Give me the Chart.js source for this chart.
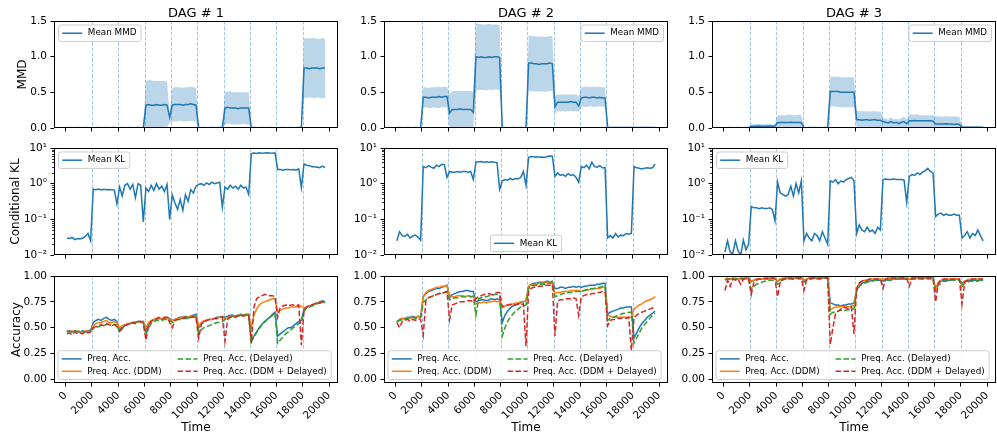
<!DOCTYPE html>
<html><head><meta charset="utf-8">
<script src="https://cdn.jsdelivr.net/npm/chart.js@4.4.1/dist/chart.umd.min.js"></script>
<style>html,body{margin:0;padding:0;background:#fff;overflow:hidden;width:997px;height:440px}</style>
</head><body>
<script>
// ---------------- DATA ----------------
const times = [
 100,300,500,700,900,1100,1300,1500,1700,1900,
 2100,2300,2500,2700,2900,3100,3300,3500,3700,3900,
 4100,4300,4500,4700,4900,5100,5300,5500,5700,5900,
 6100,6300,6500,6700,6900,7100,7300,7500,7700,7900,
 8100,8300,8500,8700,8900,9100,9300,9500,9700,9900,
 10100,10300,10500,10700,10900,11100,11300,11500,11700,11900,
 12100,12300,12500,12700,12900,13100,13300,13500,13700,13900,
 14100,14300,14500,14700,14900,15100,15300,15500,15700,15900,
 16100,16300,16500,16700,16900,17100,17300,17500,17700,17900,
 18100,18300,18500,18700,18900,19100,19300,19500,19700
];
const dagTitles = ['DAG # 1','DAG # 2','DAG # 3'];
const driftPoints = [2000,4000,6000,8000,10000,12000,14000,16000,18000];
const xTicks = [0,2000,4000,6000,8000,10000,12000,14000,16000,18000,20000];
const xTickLabels = ['0','2000','4000','6000','8000','10000','12000','14000','16000','18000','20000'];
const mmdTicks = [0,0.5,1,1.5];
const mmdTickLabels = ['0.0','0.5','1.0','1.5'];
const klTicks = [0.01,0.1,1,10];
const klTickLabels = ['10\u207B\u00B2','10\u207B\u00B9','10\u2070','10\u00B9'];
const klMinorTicks = [0.02,0.03,0.04,0.05,0.06,0.07,0.08,0.09,0.2,0.3,0.4,0.5,0.6,0.7,0.8,0.9,2,3,4,5,6,7,8,9];
const accTicks = [0,0.25,0.5,0.75,1];
const accTickLabels = ['0.00','0.25','0.50','0.75','1.00'];
const accLabels = ['Preq. Acc.','Preq. Acc. (DDM)','Preq. Acc. (Delayed)','Preq. Acc. (DDM + Delayed)'];

// ---- MMD (mean, upper, lower) ----
const mmd1Mean = [
 .005,.006,.005,.005,.006,.005,.005,.006,.005,.005,
 .005,.005,.006,.005,.005,.006,.005,.005,.006,.005,
 .005,.006,.005,.005,.006,.005,.005,.006,.005,.005,
 .32,.33,.32,.32,.33,.32,.32,.33,.32,.15,
 .32,.33,.33,.33,.32,.33,.33,.34,.33,.32,
 .005,.005,.006,.005,.005,.006,.005,.005,.006,.005,
 .28,.29,.28,.28,.28,.27,.28,.28,.28,.28,
 .005,.006,.005,.005,.006,.005,.005,.006,.005,.005,
 .005,.005,.006,.005,.005,.006,.005,.005,.006,.005,
 .84,.84,.83,.84,.84,.84,.83,.84,.84];
const mmd1Hi = [
 .008,.008,.008,.008,.008,.008,.008,.008,.008,.008,
 .008,.008,.008,.008,.008,.008,.008,.008,.008,.008,
 .008,.008,.008,.008,.008,.008,.008,.008,.008,.008,
 .66,.67,.67,.66,.66,.66,.66,.66,.65,.22,
 .56,.57,.57,.57,.56,.57,.57,.58,.57,.56,
 .008,.008,.008,.008,.008,.008,.008,.008,.008,.008,
 .50,.51,.51,.50,.50,.50,.50,.50,.50,.50,
 .008,.008,.008,.008,.008,.008,.008,.008,.008,.008,
 .008,.008,.008,.008,.008,.008,.008,.008,.008,.008,
 1.25,1.26,1.25,1.26,1.26,1.25,1.25,1.26,1.25];
const mmd1Lo = [
 .002,.002,.002,.002,.002,.002,.002,.002,.002,.002,
 .002,.002,.002,.002,.002,.002,.002,.002,.002,.002,
 .002,.002,.002,.002,.002,.002,.002,.002,.002,.002,
 .0,.0,.01,.0,.0,.01,.0,.0,.01,.08,
 .09,.09,.09,.10,.09,.09,.09,.10,.09,.09,
 .002,.002,.002,.002,.002,.002,.002,.002,.002,.002,
 .05,.06,.06,.05,.05,.05,.05,.06,.05,.05,
 .002,.002,.002,.002,.002,.002,.002,.002,.002,.002,
 .002,.002,.002,.002,.002,.002,.002,.002,.002,.002,
 .42,.42,.43,.42,.42,.43,.42,.42,.42];

const mmd2Mean = [
 .005,.006,.005,.005,.006,.005,.005,.006,.005,.005,
 .43,.43,.42,.43,.43,.43,.44,.43,.44,.44,
 .21,.26,.26,.26,.27,.26,.26,.26,.26,.22,
 1.0,.99,1.0,.99,.99,1.0,.99,1.0,1.0,.99,
 .005,.006,.005,.005,.006,.005,.005,.006,.005,.005,
 .91,.91,.90,.90,.89,.90,.90,.90,.91,.90,
 .30,.36,.36,.36,.36,.36,.37,.36,.36,.31,
 .42,.43,.43,.42,.43,.43,.42,.43,.42,.42,
 .008,.007,.008,.008,.007,.008,.008,.007,.008,.008,
 .008,.007,.008,.008,.007,.008,.008,.007,.008];
const mmd2Hi = [
 .008,.008,.008,.008,.008,.008,.008,.008,.008,.008,
 .57,.57,.56,.57,.57,.57,.58,.57,.58,.58,
 .47,.52,.52,.52,.52,.52,.52,.52,.52,.50,
 1.46,1.46,1.45,1.45,1.45,1.46,1.45,1.45,1.45,1.44,
 .008,.008,.008,.008,.008,.008,.008,.008,.008,.008,
 1.30,1.29,1.29,1.28,1.28,1.28,1.28,1.28,1.29,1.28,
 .45,.47,.47,.47,.47,.47,.47,.47,.47,.44,
 .57,.58,.58,.57,.58,.58,.57,.58,.57,.57,
 .012,.012,.012,.012,.012,.012,.012,.012,.012,.012,
 .012,.012,.012,.012,.012,.012,.012,.012,.012];
const mmd2Lo = [
 .002,.002,.002,.002,.002,.002,.002,.002,.002,.002,
 .28,.29,.28,.28,.29,.28,.28,.29,.29,.29,
 0,0,0,0,0,0,0,0,0,0,
 .53,.53,.54,.53,.53,.54,.53,.54,.54,.53,
 .002,.002,.002,.002,.002,.002,.002,.002,.002,.002,
 .51,.52,.51,.51,.51,.51,.51,.51,.52,.52,
 .20,.24,.23,.24,.23,.24,.24,.23,.24,.22,
 .30,.30,.29,.30,.30,.29,.30,.30,.30,.30,
 .003,.003,.003,.003,.003,.003,.003,.003,.003,.003,
 .003,.003,.003,.003,.003,.003,.003,.003,.003];

const mmd3Mean = [
 .005,.005,.006,.005,.005,.006,.005,.005,.006,.005,
 .025,.026,.025,.027,.026,.025,.026,.027,.026,.028,
 .075,.078,.076,.077,.078,.080,.078,.077,.078,.076,
 .006,.005,.006,.005,.006,.005,.006,.005,.006,.005,
 .51,.51,.51,.51,.50,.50,.50,.50,.50,.50,
 .115,.115,.11,.115,.115,.11,.115,.115,.11,.11,
 .09,.08,.07,.09,.07,.08,.06,.08,.09,.06,
 .10,.10,.105,.10,.10,.10,.10,.10,.10,.095,
 .055,.055,.055,.055,.06,.055,.055,.05,.055,.05,
 .012,.012,.012,.01,.01,.01,.01,.01,.01];
const mmd3Hi = [
 .008,.008,.008,.008,.008,.008,.008,.008,.008,.008,
 .05,.05,.055,.055,.05,.05,.055,.055,.05,.05,
 .18,.18,.18,.18,.19,.19,.18,.18,.19,.18,
 .009,.009,.009,.009,.009,.009,.009,.009,.009,.009,
 .72,.72,.72,.72,.71,.71,.71,.71,.71,.71,
 .24,.24,.235,.235,.235,.23,.235,.235,.23,.23,
 .14,.13,.12,.15,.12,.13,.12,.14,.16,.12,
 .19,.19,.19,.19,.18,.18,.18,.18,.18,.18,
 .16,.165,.16,.16,.165,.16,.16,.16,.16,.16,
 .025,.025,.025,.022,.022,.022,.022,.022,.022];
const mmd3Lo = [
 .002,.002,.002,.002,.002,.002,.002,.002,.002,.002,
 0,0,0,0,0,0,0,0,0,0,
 0,0,0,0,0,0,0,0,0,0,
 .002,.002,.002,.002,.002,.002,.002,.002,.002,.002,
 .30,.30,.30,.29,.29,.29,.29,.29,.29,.29,
 0,0,0,0,0,0,0,0,0,0,
 0,0,0,0,0,0,0,0,0,0,
 0,0,0,0,0,0,0,0,0,0,
 0,0,0,0,0,0,0,0,0,0,
 0,0,0,0,0,0,0,0,0];

// ---- Conditional KL ----
const kl1 = [
 .030,.029,.031,.027,.029,.028,.030,.033,.040,.025,
 .70,.68,.71,.67,.70,.68,.69,.67,.66,.27,
 .80,.45,.90,1.0,.70,.95,.40,1.0,.90,.085,
 .75,.60,.90,.65,1.0,.70,.85,.60,.95,.10,
 .48,.29,.19,.36,.18,.49,.32,.68,.55,.85,
 .95,1.0,.90,1.05,.95,1.1,1.0,1.05,1.1,.22,
 .80,.70,.90,.75,.85,.70,.90,.75,.80,.50,
 7.0,7.2,7.0,7.3,7.1,7.2,7.4,7.2,7.1,7.3,
 2.5,2.5,2.4,2.5,2.5,2.45,2.5,2.4,2.6,.78,
 3.6,3.3,3.2,3.0,3.0,2.9,2.8,3.1,2.8];
const kl2 = [
 .025,.045,.035,.033,.038,.030,.034,.036,.032,.026,
 3.0,2.8,3.2,2.9,2.7,3.3,3.0,3.5,3.4,1.5,
 2.2,2.1,2.1,2.2,2.1,2.2,2.2,2.1,2.2,1.3,
 4.0,4.1,4.2,4.0,4.1,4.0,4.1,4.0,3.9,.70,
 1.2,1.3,1.25,1.4,1.3,1.4,1.35,1.5,2.2,.90,
 5.5,5.8,5.6,5.7,5.5,5.6,5.4,5.8,6.0,5.9,
 1.6,2.0,1.7,1.8,1.6,1.9,1.7,1.8,1.5,1.1,
 3.0,2.8,3.3,2.6,4.0,3.0,2.9,3.2,2.8,2.8,
 .030,.035,.030,.040,.032,.036,.035,.040,.038,.040,
 3.0,2.8,2.7,2.6,2.7,2.8,2.7,2.8,3.5];
const kl3 = [
 .012,.025,.012,.011,.025,.013,.010,.026,.014,.020,
 .23,.21,.21,.20,.21,.20,.20,.21,.19,.09,
 1.1,.55,.50,.45,.50,.85,.45,1.0,.55,1.2,
 .025,.040,.030,.025,.040,.035,.025,.045,.030,.020,
 1.2,1.1,1.3,1.0,1.2,1.1,1.3,1.4,1.5,1.2,
 .040,.070,.050,.045,.060,.045,.050,.040,.060,.050,
 1.3,1.35,1.3,1.3,1.35,1.3,1.3,1.3,1.25,.30,
 1.6,1.8,1.7,2.0,1.8,2.1,2.3,2.7,2.2,2.0,
 .12,.14,.15,.13,.14,.13,.13,.14,.13,.13,
 .030,.035,.045,.030,.040,.035,.050,.035,.025];

// ---- Accuracy ----
const acc1Blue = [
 .46,.47,.46,.47,.46,.46,.47,.46,.47,.47,
 .55,.57,.58,.57,.59,.60,.58,.57,.58,.56,
 .47,.50,.52,.53,.54,.55,.55,.56,.56,.56,
 .47,.53,.56,.58,.58,.59,.58,.59,.60,.59,
 .57,.58,.59,.60,.60,.61,.60,.61,.62,.63,
 .50,.54,.56,.57,.58,.58,.59,.60,.60,.61,
 .60,.61,.62,.62,.61,.62,.63,.62,.63,.63,
 .37,.42,.46,.50,.53,.56,.58,.60,.63,.65,
 .42,.44,.46,.48,.50,.50,.52,.54,.56,.57,
 .68,.70,.71,.72,.73,.74,.75,.76,.75];
const acc1Orange = [
 .47,.46,.47,.46,.47,.46,.46,.47,.46,.47,
 .52,.54,.55,.55,.56,.57,.55,.55,.56,.55,
 .50,.52,.53,.54,.54,.55,.55,.56,.55,.56,
 .50,.55,.57,.58,.59,.59,.58,.59,.59,.58,
 .57,.58,.59,.59,.60,.60,.60,.61,.61,.61,
 .52,.55,.57,.57,.58,.58,.59,.59,.60,.60,
 .59,.60,.61,.61,.61,.62,.62,.62,.62,.63,
 .50,.62,.68,.72,.74,.75,.76,.77,.78,.78,
 .65,.67,.68,.69,.69,.70,.70,.70,.71,.71,
 .69,.70,.71,.72,.73,.74,.74,.75,.75];
const acc1Green = [
 .47,.46,.46,.47,.46,.47,.46,.46,.47,.48,
 .49,.50,.51,.52,.52,.53,.53,.52,.53,.53,
 .45,.49,.52,.53,.54,.55,.55,.56,.56,.55,
 .43,.50,.54,.56,.57,.57,.57,.58,.58,.57,
 .55,.57,.58,.58,.59,.59,.59,.60,.60,.60,
 .45,.48,.50,.51,.52,.53,.54,.55,.55,.56,
 .58,.60,.60,.61,.61,.61,.62,.62,.62,.62,
 .36,.41,.45,.49,.53,.55,.58,.60,.62,.64,
 .35,.38,.41,.44,.46,.48,.50,.52,.54,.55,
 .66,.69,.70,.71,.72,.73,.74,.75,.74];
const acc1Red = [
 .44,.45,.43,.46,.44,.45,.44,.46,.45,.46,
 .50,.51,.52,.53,.52,.54,.53,.52,.53,.51,
 .47,.51,.52,.53,.54,.55,.54,.56,.56,.54,
 .38,.52,.56,.58,.59,.60,.58,.60,.60,.55,
 .50,.57,.58,.59,.59,.60,.59,.60,.61,.60,
 .40,.53,.56,.57,.58,.58,.59,.59,.60,.60,
 .37,.58,.60,.61,.60,.62,.62,.61,.62,.62,
 .35,.70,.78,.80,.81,.82,.82,.81,.81,.80,
 .60,.70,.71,.72,.71,.72,.72,.71,.72,.33,
 .67,.70,.71,.72,.73,.74,.74,.75,.75];

const acc2Blue = [
 .56,.58,.59,.59,.60,.60,.61,.60,.61,.60,
 .80,.83,.85,.86,.87,.88,.88,.89,.90,.91,
 .80,.82,.83,.84,.85,.85,.86,.86,.85,.85,
 .75,.76,.77,.77,.76,.77,.78,.77,.78,.77,
 .55,.62,.66,.69,.71,.72,.73,.74,.75,.76,
 .90,.92,.93,.93,.94,.94,.94,.95,.94,.95,
 .88,.88,.89,.89,.88,.89,.89,.90,.89,.90,
 .89,.90,.90,.91,.91,.91,.92,.92,.93,.93,
 .63,.65,.66,.67,.68,.69,.69,.70,.70,.70,
 .40,.45,.50,.54,.57,.60,.62,.64,.66];
const acc2Orange = [
 .55,.58,.59,.58,.60,.59,.60,.60,.61,.61,
 .80,.84,.86,.87,.88,.89,.89,.90,.90,.91,
 .79,.80,.80,.81,.81,.81,.80,.81,.80,.81,
 .73,.74,.74,.75,.74,.75,.75,.76,.75,.76,
 .70,.71,.72,.73,.73,.74,.74,.75,.75,.76,
 .90,.91,.92,.92,.93,.93,.93,.94,.93,.94,
 .83,.84,.84,.85,.85,.85,.86,.86,.86,.86,
 .85,.86,.86,.87,.87,.88,.88,.88,.89,.89,
 .62,.61,.60,.60,.60,.60,.60,.60,.60,.60,
 .68,.70,.72,.73,.75,.76,.77,.78,.80];
const acc2Green = [
 .56,.57,.58,.58,.59,.59,.60,.59,.60,.60,
 .74,.77,.79,.80,.81,.82,.83,.83,.84,.85,
 .77,.78,.79,.79,.80,.80,.80,.81,.80,.80,
 .62,.78,.79,.80,.80,.81,.81,.82,.82,.82,
 .42,.50,.56,.60,.63,.66,.68,.70,.71,.72,
 .88,.90,.91,.91,.92,.92,.92,.93,.93,.93,
 .80,.81,.82,.83,.83,.84,.84,.85,.85,.85,
 .85,.86,.87,.87,.88,.88,.89,.89,.90,.90,
 .57,.59,.60,.61,.62,.63,.64,.64,.65,.65,
 .35,.40,.45,.50,.53,.56,.59,.62,.64];
const acc2Red = [
 .55,.50,.56,.57,.58,.56,.58,.57,.59,.58,
 .43,.76,.79,.80,.81,.82,.83,.83,.84,.85,
 .58,.72,.73,.74,.75,.75,.75,.76,.76,.75,
 .78,.80,.81,.82,.82,.83,.82,.83,.84,.84,
 .70,.71,.72,.72,.73,.72,.73,.72,.73,.32,
 .86,.88,.89,.89,.90,.90,.91,.91,.91,.92,
 .42,.76,.77,.77,.78,.78,.78,.79,.78,.62,
 .80,.81,.82,.82,.83,.83,.84,.84,.85,.85,
 .52,.57,.58,.58,.59,.59,.60,.59,.60,.28,
 .60,.62,.64,.65,.66,.67,.68,.69,.70];

const acc3Blue = [
 .97,.97,.97,.98,.97,.97,.98,.97,.98,.98,
 .95,.96,.97,.97,.97,.98,.97,.98,.98,.98,
 .95,.97,.97,.98,.98,.98,.98,.98,.98,.98,
 .96,.97,.98,.98,.98,.98,.98,.98,.98,.98,
 .74,.73,.72,.72,.71,.72,.72,.73,.73,.74,
 .86,.91,.93,.94,.95,.95,.96,.96,.96,.96,
 .96,.96,.97,.97,.97,.97,.97,.97,.97,.97,
 .97,.97,.97,.98,.98,.97,.98,.98,.98,.98,
 .88,.93,.95,.96,.96,.96,.96,.96,.97,.96,
 .93,.95,.95,.96,.96,.96,.96,.96,.96];
const acc3Orange = [
 .97,.98,.97,.97,.98,.97,.98,.98,.97,.98,
 .94,.96,.97,.97,.97,.98,.98,.97,.98,.98,
 .95,.97,.98,.98,.98,.98,.98,.98,.98,.98,
 .96,.97,.98,.98,.98,.98,.98,.98,.98,.98,
 .67,.69,.70,.70,.71,.70,.71,.70,.71,.71,
 .88,.93,.95,.96,.96,.97,.97,.97,.97,.97,
 .97,.97,.98,.98,.98,.98,.98,.98,.98,.98,
 .97,.98,.98,.98,.98,.98,.98,.98,.98,.98,
 .86,.94,.96,.97,.97,.97,.97,.97,.97,.97,
 .90,.95,.96,.97,.97,.97,.97,.97,.97];
const acc3Green = [
 .96,.97,.97,.97,.97,.98,.97,.97,.98,.97,
 .87,.90,.92,.93,.94,.95,.95,.96,.96,.96,
 .92,.95,.96,.97,.97,.97,.97,.98,.97,.97,
 .94,.96,.97,.97,.98,.97,.98,.98,.98,.98,
 .63,.65,.65,.66,.67,.66,.67,.67,.68,.68,
 .85,.90,.92,.93,.94,.95,.95,.96,.96,.96,
 .95,.96,.96,.96,.97,.97,.97,.97,.97,.97,
 .96,.97,.97,.97,.97,.97,.98,.97,.97,.98,
 .86,.91,.93,.95,.95,.96,.96,.96,.96,.96,
 .90,.93,.94,.95,.95,.95,.95,.96,.96];
const acc3Red = [
 .86,.96,.90,.97,.96,.97,.92,.97,.98,.97,
 .82,.94,.96,.97,.97,.97,.98,.97,.98,.97,
 .80,.95,.97,.97,.98,.98,.97,.98,.98,.98,
 .86,.96,.97,.98,.98,.98,.97,.98,.98,.98,
 .34,.50,.64,.66,.68,.70,.69,.68,.70,.44,
 .88,.93,.95,.96,.96,.97,.97,.97,.97,.97,
 .88,.97,.98,.98,.98,.98,.98,.98,.98,.98,
 .90,.98,.98,.98,.98,.98,.98,.98,.98,.98,
 .75,.93,.96,.97,.97,.96,.97,.97,.97,.97,
 .73,.94,.96,.96,.97,.97,.97,.97,.97];

// ---------------- STYLE / LAYOUT ----------------
const FONT = "'DejaVu Sans', sans-serif";
Chart.defaults.font.family = FONT;
Chart.defaults.font.size = 10.5;
Chart.defaults.color = '#000';
const BLUE='#1f77b4', ORANGE='#ff7f0e', GREEN='#2ca02c', RED='#d62728';
const BAND='rgba(31,119,180,0.3)';
const DRIFT='rgba(31,119,180,0.4)';
const colLeft=[0,330,658], canvasW=[340,340,339], padRight=[2,2,1];
const rowTop=[0,134,261], rowH=[134,127,179], padTop=[21,14,15], xAxisH=[6,6,57];
const yTitlePad=[15.6,9,10];
const TICKFS=10.5;
const LEG={fs:8.8,padL:3.7,padR:4.5,handle:20,handlePad:5.6,colSpace:16,rowSp:12.4,padV:8.2};

const pts = arr => times.map((t,i)=>({x:t,y:arr[i]}));

function legendPlugin(spec){
  return {id:'mlegend', afterDatasetsDraw(chart){
    const ctx=chart.ctx, a=chart.chartArea;
    ctx.save();
    ctx.font=LEG.fs+'px '+FONT;
    const cols=spec.cols;
    const colW=cols.map(c=>Math.max(...c.map(it=>ctx.measureText(it.label).width)));
    const nRows=Math.max(...cols.map(c=>c.length));
    let w=LEG.padL+LEG.padR;
    colW.forEach((cw,i)=>{w+=LEG.handle+LEG.handlePad+cw+(i>0?LEG.colSpace:0);});
    const h=2*LEG.padV+(nRows-1)*LEG.rowSp;
    let x0,y0;
    if(spec.loc==='upper left'){x0=a.left+4.5;y0=a.top+4;}
    else if(spec.loc==='upper right'){x0=a.right-4.5-w;y0=a.top+4;}
    else if(spec.loc==='lower left'){x0=a.left+4;y0=a.bottom-3.5-h;}
    else {x0=(a.left+a.right)/2-w/2;y0=a.bottom-3.5-h;}
    const r=2.5;
    ctx.beginPath();
    ctx.moveTo(x0+r,y0);ctx.lineTo(x0+w-r,y0);ctx.arcTo(x0+w,y0,x0+w,y0+r,r);
    ctx.lineTo(x0+w,y0+h-r);ctx.arcTo(x0+w,y0+h,x0+w-r,y0+h,r);
    ctx.lineTo(x0+r,y0+h);ctx.arcTo(x0,y0+h,x0,y0+h-r,r);
    ctx.lineTo(x0,y0+r);ctx.arcTo(x0,y0,x0+r,y0,r);ctx.closePath();
    ctx.fillStyle='rgba(255,255,255,0.8)';ctx.fill();
    ctx.strokeStyle='#cccccc';ctx.lineWidth=1;ctx.stroke();
    let cx=x0+LEG.padL;
    cols.forEach((c,ci)=>{
      c.forEach((it,ri)=>{
        const y=y0+LEG.padV+ri*LEG.rowSp;
        ctx.beginPath();ctx.setLineDash(it.dash||[]);ctx.strokeStyle=it.color;ctx.lineWidth=1.5;
        ctx.moveTo(cx,y);ctx.lineTo(cx+LEG.handle,y);ctx.stroke();ctx.setLineDash([]);
        ctx.fillStyle='#000';ctx.textBaseline='middle';ctx.textAlign='left';
        ctx.fillText(it.label,cx+LEG.handle+LEG.handlePad,y);
      });
      cx+=LEG.handle+LEG.handlePad+colW[ci]+LEG.colSpace;
    });
    ctx.restore();
  }};
}
const driftPlugin={id:'drift', beforeDatasetsDraw(chart){
  const ctx=chart.ctx,a=chart.chartArea,xs=chart.scales.x;
  ctx.save();ctx.strokeStyle=DRIFT;ctx.lineWidth=1;ctx.setLineDash([3.7,1.6]);
  driftPoints.forEach(v=>{const x=Math.round(xs.getPixelForValue(v))+0.5;
    ctx.beginPath();ctx.moveTo(x,a.top);ctx.lineTo(x,a.bottom);ctx.stroke();});
  ctx.restore();
}};
const framePlugin={id:'frame', afterDraw(chart){
  const ctx=chart.ctx,a=chart.chartArea;
  ctx.save();ctx.strokeStyle='#000';ctx.lineWidth=1;
  ctx.strokeRect(a.left+0.5,a.top+0.5,a.right-a.left-1,a.bottom-a.top-1);
  ctx.restore();
}};
const minorPlugin={id:'minor', afterDraw(chart){
  const ctx=chart.ctx,a=chart.chartArea,ys=chart.scales.y;
  ctx.save();ctx.strokeStyle='#000';ctx.lineWidth=0.8;
  klMinorTicks.forEach(v=>{const y=Math.round(ys.getPixelForValue(v))+0.5;
    ctx.beginPath();ctx.moveTo(a.left,y);ctx.lineTo(a.left-2,y);ctx.stroke();});
  ctx.restore();
}};
function titlePlugin(text){return {id:'dagtitle', afterDraw(chart){
  const ctx=chart.ctx,a=chart.chartArea;
  ctx.save();ctx.font='13px '+FONT;ctx.fillStyle='#000';ctx.textAlign='center';ctx.textBaseline='alphabetic';
  ctx.fillText(text,(a.left+a.right)/2,17);ctx.restore();
}};}

function zeroPad(s){s.paddingLeft=0;s.paddingRight=0;s.paddingTop=0;s.paddingBottom=0;}

function panel(col,row,datasets,yCfg,legendSpec){
  const cv=document.createElement('canvas');
  cv.width=canvasW[col];cv.height=rowH[row];
  cv.style.cssText='position:absolute;left:'+colLeft[col]+'px;top:'+rowTop[row]+'px;width:'+canvasW[col]+'px;height:'+rowH[row]+'px';
  document.body.appendChild(cv);
  const plugins=[driftPlugin,framePlugin,legendPlugin(legendSpec)];
  if(row===0)plugins.push(titlePlugin(dagTitles[col]));
  if(row===1)plugins.push(minorPlugin);
  const yTitle={display:col===0,text:yCfg.title,font:{size:12},padding:{top:yTitlePad[row],bottom:0}};
  new Chart(cv,{type:'line',data:{datasets},
    options:{responsive:false,animation:false,
      layout:{padding:{top:padTop[row],right:padRight[col],bottom:0,left:0},autoPadding:false},
      plugins:{legend:{display:false},tooltip:{enabled:false},filler:{propagate:false}},
      elements:{point:{radius:0},line:{tension:0,borderWidth:1.5}},
      scales:{
        x:{type:'linear',min:-880,max:20680,
          afterBuildTicks:s=>{s.ticks=xTicks.map(v=>({value:v}));},
          afterFit:s=>{s.height=xAxisH[row];zeroPad(s);},
          grid:{drawOnChartArea:false,drawTicks:true,tickLength:3.5,color:'#000',lineWidth:1},
          border:{display:false},
          ticks:{display:row===2,autoSkip:false,maxRotation:45,minRotation:45,padding:3,font:{size:TICKFS},color:'#000',
            callback:(v,i)=>xTickLabels[i]},
          title:{display:row===2,text:'Time',font:{size:12},padding:{top:0,bottom:5.3}}
        },
        y:{type:yCfg.type,min:yCfg.min,max:yCfg.max,
          afterBuildTicks:s=>{s.ticks=yCfg.ticks.map(v=>({value:v}));},
          afterFit:s=>{s.width=54;zeroPad(s);},
          grid:{drawOnChartArea:false,drawTicks:true,tickLength:3.5,color:'#000',lineWidth:1},
          border:{display:false},
          ticks:{autoSkip:false,padding:3.5,font:{size:TICKFS},color:'#000',callback:(v,i)=>yCfg.labels[i]},
          title:yTitle
        }
      }},
    plugins});
}

const mmdSets=[[mmd1Mean,mmd1Hi,mmd1Lo],[mmd2Mean,mmd2Hi,mmd2Lo],[mmd3Mean,mmd3Hi,mmd3Lo]];
const klSets=[kl1,kl2,kl3];
const accSets=[[acc1Blue,acc1Orange,acc1Green,acc1Red],[acc2Blue,acc2Orange,acc2Green,acc2Red],[acc3Blue,acc3Orange,acc3Green,acc3Red]];
const mmdLegLoc=['upper left','upper right','upper right'];
const klLegLoc=['upper left','lower center','upper left'];
const accColors=[BLUE,ORANGE,GREEN,RED];
const accDash=[[],[],[5.5,2.4],[5.5,2.4]];

for(let c=0;c<3;c++){
  const [m,hi,lo]=mmdSets[c];
  panel(c,0,[
    {label:'Mean MMD',data:pts(m),borderColor:BLUE,fill:false},
    {label:'upper',data:pts(hi),borderWidth:0,borderColor:'rgba(0,0,0,0)',backgroundColor:BAND,fill:'+1'},
    {label:'lower',data:pts(lo),borderWidth:0,borderColor:'rgba(0,0,0,0)',fill:false}
  ],{type:'linear',min:0,max:1.5,ticks:mmdTicks,labels:mmdTickLabels,title:'MMD'},
  {loc:mmdLegLoc[c],cols:[[{label:'Mean MMD',color:BLUE}]]});

  panel(c,1,[
    {label:'Mean KL',data:pts(klSets[c]),borderColor:BLUE,fill:false}
  ],{type:'logarithmic',min:0.01,max:10,ticks:klTicks,labels:klTickLabels,title:'Conditional KL'},
  {loc:klLegLoc[c],cols:[[{label:'Mean KL',color:BLUE}]]});

  panel(c,2,accSets[c].map((arr,i)=>({label:accLabels[i],data:pts(arr),borderColor:accColors[i],
      borderDash:accDash[i],fill:false,order:4-i})),
  {type:'linear',min:-0.035,max:1.0,ticks:accTicks,labels:accTickLabels,title:'Accuracy'},
  {loc:'lower left',cols:[
    [{label:accLabels[0],color:BLUE},{label:accLabels[1],color:ORANGE}],
    [{label:accLabels[2],color:GREEN,dash:[5.5,2.4]},{label:accLabels[3],color:RED,dash:[5.5,2.4]}]]});
}
</script>
</body></html>
